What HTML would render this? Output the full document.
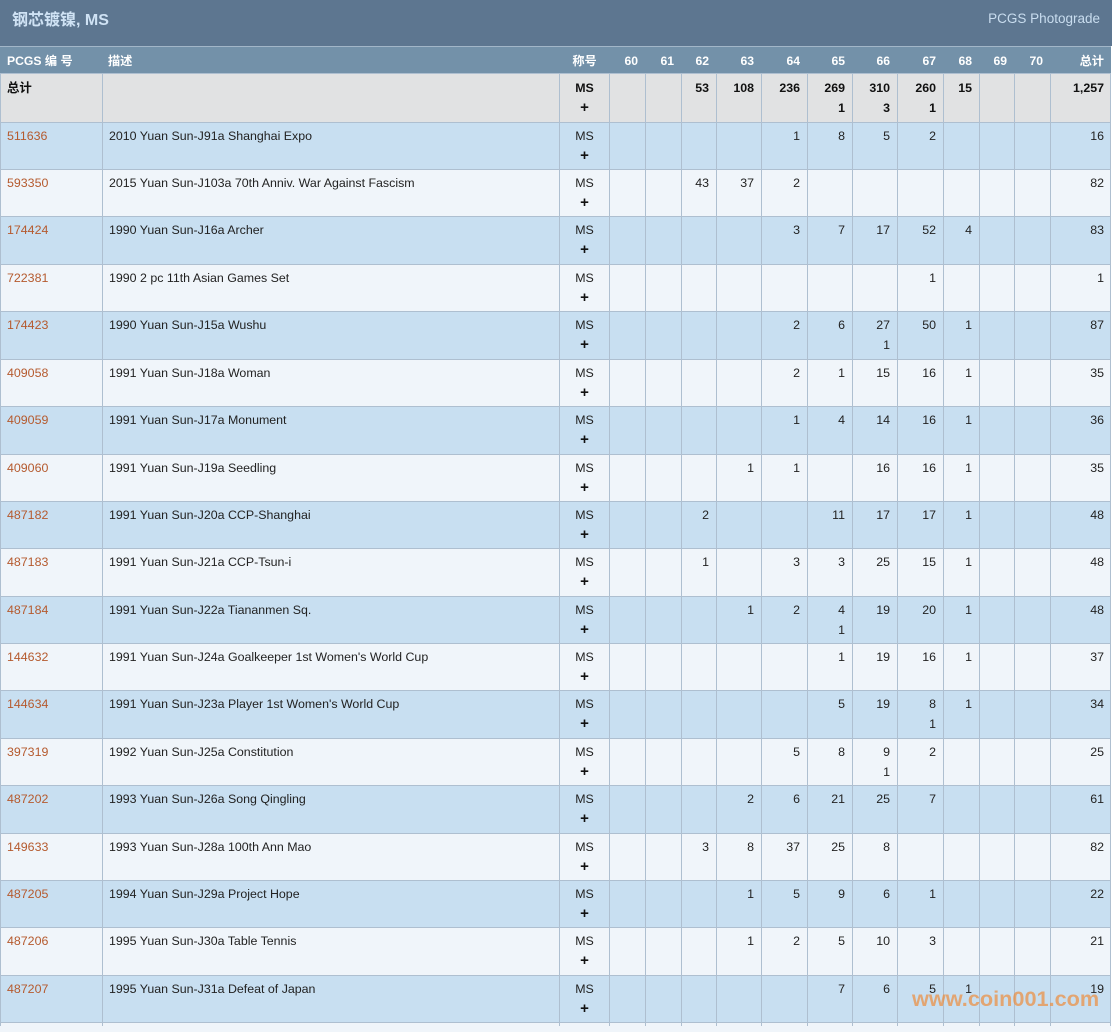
<!DOCTYPE html>
<html><head><meta charset="utf-8">
<style>
*{margin:0;padding:0;box-sizing:border-box}
body{width:1112px;height:1026px;overflow:hidden;background:#fff;font-family:"Liberation Sans","Noto Sans CJK SC",sans-serif;font-size:12.4px;color:#222;position:relative}
.bar{position:absolute;left:0;top:0;width:1112px;height:46px;background:#5d7690}
.title{position:absolute;left:12px;top:10px;font-size:16px;font-weight:bold;color:#cfe2f4;line-height:22px}
.pg{position:absolute;right:12px;top:9px;font-size:13.5px;color:#c9ddef;line-height:20px}
.hd{position:absolute;left:0;top:46px;width:1111px;height:28px;background:#7391a9;border-top:1px solid #a2b6c8;color:#fff;font-weight:bold;font-size:12.2px}
.hd span{position:absolute;top:5px;line-height:18px}
.r{position:absolute;left:0;width:1111px;border-top:1px solid #aebfd0}
.b{background:#c8dff1}
.l{background:#f0f5fa}
.tot{background:#e1e2e3;font-weight:bold;color:#111}
.r span{position:absolute;top:3px;line-height:20px}
.tot span{top:4px}
.v{position:absolute;top:73px;height:953px;width:1px;background:#aebfd0}
.k0{left:7px;color:#b55a2e}
.tot .k0{color:#111}
.k1{left:109px}
.km{left:560px;width:49px;text-align:center}
.km b{font-weight:bold;font-size:15px;color:#111}
.c60{left:610px;width:28px;text-align:right}
.c61{left:646px;width:28px;text-align:right}
.c62{left:682px;width:27px;text-align:right}
.c63{left:717px;width:37px;text-align:right}
.c64{left:762px;width:38px;text-align:right}
.c65{left:808px;width:37px;text-align:right}
.c66{left:853px;width:37px;text-align:right}
.c67{left:898px;width:38px;text-align:right}
.c68{left:944px;width:28px;text-align:right}
.c69{left:980px;width:27px;text-align:right}
.c70{left:1015px;width:28px;text-align:right}
.ct{left:1051px;width:53px;text-align:right}
.wm{position:absolute;left:912px;top:988px;font-size:21.7px;font-weight:bold;line-height:22px;color:rgba(236,140,60,0.7);white-space:nowrap}
</style></head><body>
<div class="bar"><div class="title">钢芯镀镍, MS</div><div class="pg">PCGS Photograde</div></div>
<div class="hd">
<span style="left:7px">PCGS 编 号</span>
<span style="left:108px">描述</span>
<span class="km">称号</span>
<span class="c60">60</span><span class="c61">61</span><span class="c62">62</span><span class="c63">63</span><span class="c64">64</span><span class="c65">65</span><span class="c66">66</span><span class="c67">67</span><span class="c68">68</span><span class="c69">69</span><span class="c70">70</span><span class="ct">总计</span>
</div>

<div class="r tot" style="top:73px;height:49px"><span class="k0">总计</span><span class="km">MS<br><b>+</b></span><span class="c62">53</span><span class="c63">108</span><span class="c64">236</span><span class="c65">269<br>1</span><span class="c66">310<br>3</span><span class="c67">260<br>1</span><span class="c68">15</span><span class="ct">1,257</span></div>

<div class="r b" style="top:122px;height:47px"><span class="k0">511636</span><span class="k1">2010 Yuan Sun-J91a Shanghai Expo</span><span class="km">MS<br><b>+</b></span><span class="c64">1</span><span class="c65">8</span><span class="c66">5</span><span class="c67">2</span><span class="ct">16</span></div>
<div class="r l" style="top:169px;height:47px"><span class="k0">593350</span><span class="k1">2015 Yuan Sun-J103a 70th Anniv. War Against Fascism</span><span class="km">MS<br><b>+</b></span><span class="c62">43</span><span class="c63">37</span><span class="c64">2</span><span class="ct">82</span></div>
<div class="r b" style="top:216px;height:48px"><span class="k0">174424</span><span class="k1">1990 Yuan Sun-J16a Archer</span><span class="km">MS<br><b>+</b></span><span class="c64">3</span><span class="c65">7</span><span class="c66">17</span><span class="c67">52</span><span class="c68">4</span><span class="ct">83</span></div>
<div class="r l" style="top:264px;height:47px"><span class="k0">722381</span><span class="k1">1990 2 pc 11th Asian Games Set</span><span class="km">MS<br><b>+</b></span><span class="c67">1</span><span class="ct">1</span></div>
<div class="r b" style="top:311px;height:48px"><span class="k0">174423</span><span class="k1">1990 Yuan Sun-J15a Wushu</span><span class="km">MS<br><b>+</b></span><span class="c64">2</span><span class="c65">6</span><span class="c66">27<br>1</span><span class="c67">50</span><span class="c68">1</span><span class="ct">87</span></div>
<div class="r l" style="top:359px;height:47px"><span class="k0">409058</span><span class="k1">1991 Yuan Sun-J18a Woman</span><span class="km">MS<br><b>+</b></span><span class="c64">2</span><span class="c65">1</span><span class="c66">15</span><span class="c67">16</span><span class="c68">1</span><span class="ct">35</span></div>
<div class="r b" style="top:406px;height:48px"><span class="k0">409059</span><span class="k1">1991 Yuan Sun-J17a Monument</span><span class="km">MS<br><b>+</b></span><span class="c64">1</span><span class="c65">4</span><span class="c66">14</span><span class="c67">16</span><span class="c68">1</span><span class="ct">36</span></div>
<div class="r l" style="top:454px;height:47px"><span class="k0">409060</span><span class="k1">1991 Yuan Sun-J19a Seedling</span><span class="km">MS<br><b>+</b></span><span class="c63">1</span><span class="c64">1</span><span class="c66">16</span><span class="c67">16</span><span class="c68">1</span><span class="ct">35</span></div>
<div class="r b" style="top:501px;height:47px"><span class="k0">487182</span><span class="k1">1991 Yuan Sun-J20a CCP-Shanghai</span><span class="km">MS<br><b>+</b></span><span class="c62">2</span><span class="c65">11</span><span class="c66">17</span><span class="c67">17</span><span class="c68">1</span><span class="ct">48</span></div>
<div class="r l" style="top:548px;height:48px"><span class="k0">487183</span><span class="k1">1991 Yuan Sun-J21a CCP-Tsun-i</span><span class="km">MS<br><b>+</b></span><span class="c62">1</span><span class="c64">3</span><span class="c65">3</span><span class="c66">25</span><span class="c67">15</span><span class="c68">1</span><span class="ct">48</span></div>
<div class="r b" style="top:596px;height:47px"><span class="k0">487184</span><span class="k1">1991 Yuan Sun-J22a Tiananmen Sq.</span><span class="km">MS<br><b>+</b></span><span class="c63">1</span><span class="c64">2</span><span class="c65">4<br>1</span><span class="c66">19</span><span class="c67">20</span><span class="c68">1</span><span class="ct">48</span></div>
<div class="r l" style="top:643px;height:47px"><span class="k0">144632</span><span class="k1">1991 Yuan Sun-J24a Goalkeeper 1st Women's World Cup</span><span class="km">MS<br><b>+</b></span><span class="c65">1</span><span class="c66">19</span><span class="c67">16</span><span class="c68">1</span><span class="ct">37</span></div>
<div class="r b" style="top:690px;height:48px"><span class="k0">144634</span><span class="k1">1991 Yuan Sun-J23a Player 1st Women's World Cup</span><span class="km">MS<br><b>+</b></span><span class="c65">5</span><span class="c66">19</span><span class="c67">8<br>1</span><span class="c68">1</span><span class="ct">34</span></div>
<div class="r l" style="top:738px;height:47px"><span class="k0">397319</span><span class="k1">1992 Yuan Sun-J25a Constitution</span><span class="km">MS<br><b>+</b></span><span class="c64">5</span><span class="c65">8</span><span class="c66">9<br>1</span><span class="c67">2</span><span class="ct">25</span></div>
<div class="r b" style="top:785px;height:48px"><span class="k0">487202</span><span class="k1">1993 Yuan Sun-J26a Song Qingling</span><span class="km">MS<br><b>+</b></span><span class="c63">2</span><span class="c64">6</span><span class="c65">21</span><span class="c66">25</span><span class="c67">7</span><span class="ct">61</span></div>
<div class="r l" style="top:833px;height:47px"><span class="k0">149633</span><span class="k1">1993 Yuan Sun-J28a 100th Ann Mao</span><span class="km">MS<br><b>+</b></span><span class="c62">3</span><span class="c63">8</span><span class="c64">37</span><span class="c65">25</span><span class="c66">8</span><span class="ct">82</span></div>
<div class="r b" style="top:880px;height:47px"><span class="k0">487205</span><span class="k1">1994 Yuan Sun-J29a Project Hope</span><span class="km">MS<br><b>+</b></span><span class="c63">1</span><span class="c64">5</span><span class="c65">9</span><span class="c66">6</span><span class="c67">1</span><span class="ct">22</span></div>
<div class="r l" style="top:927px;height:48px"><span class="k0">487206</span><span class="k1">1995 Yuan Sun-J30a Table Tennis</span><span class="km">MS<br><b>+</b></span><span class="c63">1</span><span class="c64">2</span><span class="c65">5</span><span class="c66">10</span><span class="c67">3</span><span class="ct">21</span></div>
<div class="r b" style="top:975px;height:47px"><span class="k0">487207</span><span class="k1">1995 Yuan Sun-J31a Defeat of Japan</span><span class="km">MS<br><b>+</b></span><span class="c65">7</span><span class="c66">6</span><span class="c67">5</span><span class="c68">1</span><span class="ct">19</span></div>
<div class="r l" style="top:1022px;height:10px"></div>

<div class="v" style="left:0"></div>
<div class="v" style="left:102px"></div>
<div class="v" style="left:559px"></div>
<div class="v" style="left:609px"></div>
<div class="v" style="left:645px"></div>
<div class="v" style="left:681px"></div>
<div class="v" style="left:716px"></div>
<div class="v" style="left:761px"></div>
<div class="v" style="left:807px"></div>
<div class="v" style="left:852px"></div>
<div class="v" style="left:897px"></div>
<div class="v" style="left:943px"></div>
<div class="v" style="left:979px"></div>
<div class="v" style="left:1014px"></div>
<div class="v" style="left:1050px"></div>
<div class="v" style="left:1110px"></div>

<div class="wm">www.coin001.com</div>
</body></html>
